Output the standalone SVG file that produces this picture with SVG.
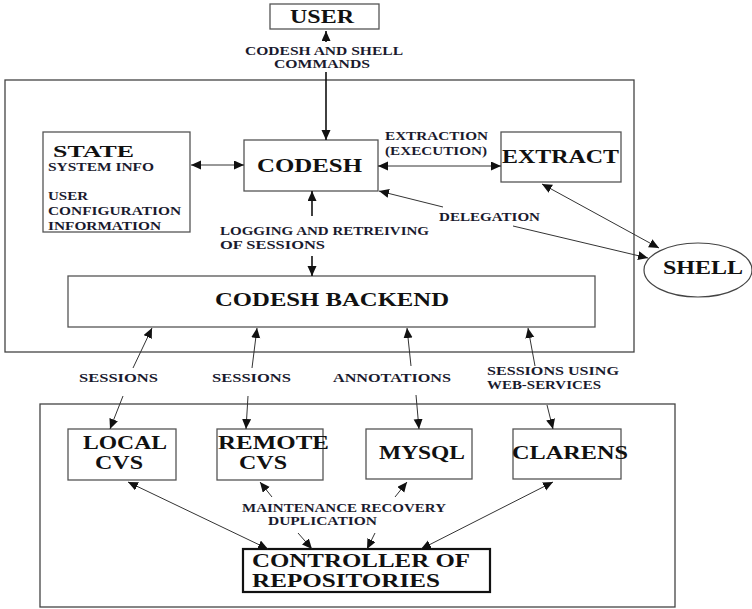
<svg xmlns="http://www.w3.org/2000/svg" width="752" height="609" viewBox="0 0 752 609">
<style>
.box{fill:#fff;stroke:#555;stroke-width:1.3}
.frame{fill:none;stroke:#444;stroke-width:1.3}
text{font-family:'Liberation Serif','DejaVu Serif','Times New Roman',serif;font-weight:bold}
.big{font-size:19px;fill:#111}
.mid{font-size:17px;fill:#111}
.lbl{font-size:12.5px;fill:#1a1a2e}
.c{stroke:#333;stroke-width:1;fill:none}
.ck{stroke:#111;stroke-width:1.6;fill:none}
</style>
<defs>
<marker id="ah" markerUnits="userSpaceOnUse" markerWidth="12" markerHeight="10" refX="10" refY="4.5" orient="auto-start-reverse">
<path d="M0,0 L10,4.5 L0,9 Z" fill="#111"/>
</marker>
</defs>
<rect class="frame" x="5" y="80" width="629" height="272"/>
<rect class="frame" x="40" y="404" width="635" height="203"/>
<g id="user"><rect class="box" x="270" y="4" width="109" height="25"/><text class="big" x="290" y="23" textLength="64" lengthAdjust="spacingAndGlyphs">USER</text></g>
<g id="state"><rect class="box" x="43" y="132" width="147" height="100"/>
<text class="mid" x="53" y="157" textLength="81" lengthAdjust="spacingAndGlyphs">STATE</text>
<text class="lbl" x="48" y="171" textLength="106" lengthAdjust="spacingAndGlyphs">SYSTEM INFO</text>
<text class="lbl" x="48" y="200" textLength="40" lengthAdjust="spacingAndGlyphs">USER</text>
<text class="lbl" x="48" y="215" textLength="133" lengthAdjust="spacingAndGlyphs">CONFIGURATION</text>
<text class="lbl" x="48" y="230" textLength="113" lengthAdjust="spacingAndGlyphs">INFORMATION</text></g>
<g id="codesh"><rect class="box" x="244" y="140" width="134" height="51"/><text class="big" x="257" y="172" textLength="105" lengthAdjust="spacingAndGlyphs">CODESH</text></g>
<g id="extract"><rect class="box" x="501" y="132" width="120" height="50"/><text class="big" x="502" y="163" textLength="117" lengthAdjust="spacingAndGlyphs">EXTRACT</text></g>
<g id="shell"><ellipse cx="698" cy="270" rx="54" ry="27" fill="#fff" stroke="#444" stroke-width="1.2"/><text class="big" x="663" y="274" textLength="80" lengthAdjust="spacingAndGlyphs">SHELL</text></g>
<g id="backend"><rect class="box" x="68" y="276" width="527" height="51"/><text class="big" x="215" y="306" textLength="234" lengthAdjust="spacingAndGlyphs">CODESH BACKEND</text></g>
<g id="localcvs"><rect class="box" x="68" y="429" width="108" height="51"/><text class="big" x="83" y="449" textLength="84" lengthAdjust="spacingAndGlyphs">LOCAL</text><text class="big" x="95" y="469" textLength="48" lengthAdjust="spacingAndGlyphs">CVS</text></g>
<g id="remotecvs"><rect class="box" x="217" y="429" width="106" height="51"/><text class="big" x="218" y="449" textLength="111" lengthAdjust="spacingAndGlyphs">REMOTE</text><text class="big" x="239" y="469" textLength="48" lengthAdjust="spacingAndGlyphs">CVS</text></g>
<g id="mysql"><rect class="box" x="366" y="429" width="106" height="50"/><text class="big" x="379" y="459" textLength="86" lengthAdjust="spacingAndGlyphs">MYSQL</text></g>
<g id="clarens"><rect class="box" x="513" y="429" width="108" height="50"/><text class="big" x="512" y="459" textLength="116" lengthAdjust="spacingAndGlyphs">CLARENS</text></g>
<g id="controller"><rect x="243" y="549" width="247" height="43" fill="#fff" stroke="#111" stroke-width="2.2"/>
<text class="big" x="252" y="567" textLength="218" lengthAdjust="spacingAndGlyphs">CONTROLLER OF</text>
<text class="big" x="252" y="587" textLength="188" lengthAdjust="spacingAndGlyphs">REPOSITORIES</text></g>
<g id="connectors">
<line class="ck" x1="326" y1="42" x2="326" y2="31" marker-end="url(#ah)"/>
<line class="ck" x1="326" y1="72" x2="326" y2="140" marker-end="url(#ah)"/>
<line class="c" x1="191" y1="165" x2="244" y2="165" marker-start="url(#ah)" marker-end="url(#ah)"/>
<line class="c" x1="378" y1="166" x2="501" y2="166" marker-start="url(#ah)" marker-end="url(#ah)"/>
<line class="ck" x1="312" y1="216" x2="312" y2="191" marker-end="url(#ah)"/>
<line class="ck" x1="312" y1="256" x2="312" y2="276" marker-end="url(#ah)"/>
<line class="c" x1="443" y1="207" x2="379" y2="191" marker-end="url(#ah)"/>
<line class="c" x1="513" y1="226" x2="648" y2="258" marker-end="url(#ah)"/>
<line class="c" x1="542" y1="184" x2="659" y2="248" marker-start="url(#ah)" marker-end="url(#ah)"/>
<line class="c" x1="133" y1="368" x2="152" y2="328" marker-end="url(#ah)"/>
<line class="c" x1="123" y1="396" x2="110" y2="429" marker-end="url(#ah)"/>
<line class="c" x1="252" y1="368" x2="257" y2="328" marker-end="url(#ah)"/>
<line class="c" x1="248" y1="396" x2="246" y2="429" marker-end="url(#ah)"/>
<line class="c" x1="411" y1="366" x2="407" y2="328" marker-end="url(#ah)"/>
<line class="c" x1="416" y1="395" x2="419" y2="429" marker-end="url(#ah)"/>
<line class="c" x1="535" y1="366" x2="528" y2="328" marker-end="url(#ah)"/>
<line class="c" x1="547" y1="405" x2="553" y2="429" marker-end="url(#ah)"/>
<line class="c" x1="128" y1="482" x2="268" y2="549" marker-start="url(#ah)" marker-end="url(#ah)"/>
<line class="c" x1="272" y1="497" x2="260" y2="482" marker-end="url(#ah)"/>
<line class="c" x1="395" y1="497" x2="407" y2="482" marker-end="url(#ah)"/>
<line class="c" x1="553" y1="482" x2="421" y2="549" marker-start="url(#ah)" marker-end="url(#ah)"/>
<line class="c" x1="298" y1="533" x2="312" y2="549" marker-end="url(#ah)"/>
<line class="c" x1="375" y1="533" x2="367" y2="549" marker-end="url(#ah)"/>
</g>
<g id="labels">
<text class="lbl" x="245" y="55" textLength="158" lengthAdjust="spacingAndGlyphs">CODESH AND SHELL</text>
<text class="lbl" x="274" y="68" textLength="96" lengthAdjust="spacingAndGlyphs">COMMANDS</text>
<text class="lbl" x="385" y="140" textLength="103" lengthAdjust="spacingAndGlyphs">EXTRACTION</text>
<text class="lbl" x="385" y="155" textLength="102" lengthAdjust="spacingAndGlyphs">(EXECUTION)</text>
<text class="lbl" x="439" y="221" textLength="101" lengthAdjust="spacingAndGlyphs">DELEGATION</text>
<text class="lbl" x="220" y="235" textLength="209" lengthAdjust="spacingAndGlyphs">LOGGING AND RETREIVING</text>
<text class="lbl" x="220" y="249" textLength="105" lengthAdjust="spacingAndGlyphs">OF SESSIONS</text>
<text class="lbl" x="79" y="382" textLength="79" lengthAdjust="spacingAndGlyphs">SESSIONS</text>
<text class="lbl" x="212" y="382" textLength="79" lengthAdjust="spacingAndGlyphs">SESSIONS</text>
<text class="lbl" x="333" y="382" textLength="118" lengthAdjust="spacingAndGlyphs">ANNOTATIONS</text>
<text class="lbl" x="487" y="375" textLength="132" lengthAdjust="spacingAndGlyphs">SESSIONS USING</text>
<text class="lbl" x="487" y="389" textLength="114" lengthAdjust="spacingAndGlyphs">WEB-SERVICES</text>
<text class="lbl" x="242" y="512" textLength="204" lengthAdjust="spacingAndGlyphs">MAINTENANCE RECOVERY</text>
<text class="lbl" x="268" y="525" textLength="109" lengthAdjust="spacingAndGlyphs">DUPLICATION</text>
</g>
</svg>
